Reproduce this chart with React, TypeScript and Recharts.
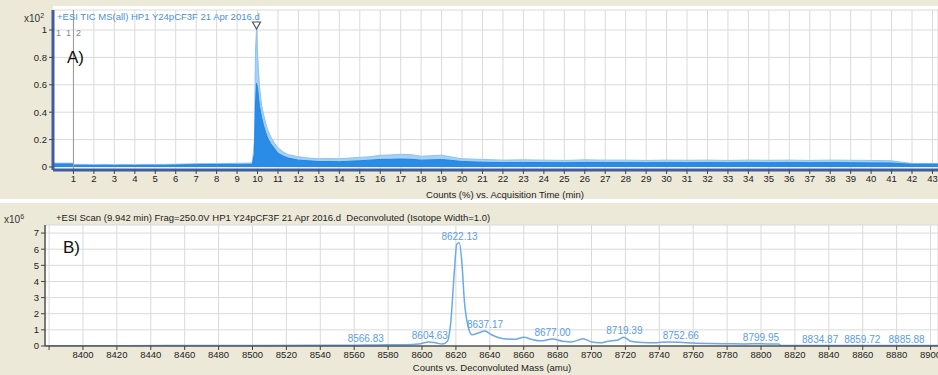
import React from "react"
import {
  ComposedChart,
  Area,
  Line,
  XAxis,
  YAxis,
  CartesianGrid,
  ReferenceLine,
  ReferenceDot,
} from "recharts"

// --- panel A: TIC chromatogram (x10^2 counts %) ---
const ticTime = [
  0, 0.5, 0.95, 1.05, 1.5, 2, 2.5, 3, 3.5, 4, 4.5, 5, 5.5, 6, 6.5, 7, 7.5, 8, 8.5, 9, 9.5, 9.75, 9.85, 9.9,
  9.95, 10.0, 10.05, 10.1, 10.2, 10.3, 10.4, 10.5, 10.65, 10.8, 11.0, 11.25, 11.5, 12, 12.5, 13, 13.5, 14,
  14.5, 15, 15.5, 16, 16.5, 17, 17.5, 18, 18.5, 19, 19.5, 20, 21, 22, 23, 24, 25, 26, 27, 28, 29, 30, 31,
  32, 33, 34, 35, 36, 37, 38, 39, 40, 41, 41.5, 42, 43.3,
]
const ticUpper = [
  0.028, 0.028, 0.028, 0.018, 0.018, 0.017, 0.018, 0.017, 0.018, 0.017, 0.018, 0.018, 0.019, 0.02, 0.022,
  0.024, 0.025, 0.026, 0.026, 0.027, 0.028, 0.03, 0.2, 0.85, 1.0, 0.83, 0.7, 0.58, 0.45, 0.38, 0.32, 0.27,
  0.22, 0.18, 0.14, 0.11, 0.09, 0.075, 0.065, 0.06, 0.062, 0.06, 0.065, 0.07, 0.075, 0.085, 0.088, 0.092,
  0.09, 0.078, 0.082, 0.086, 0.072, 0.06, 0.055, 0.05, 0.052, 0.05, 0.048, 0.052, 0.05, 0.05, 0.048, 0.05,
  0.049, 0.05, 0.048, 0.05, 0.049, 0.05, 0.048, 0.05, 0.049, 0.048, 0.045, 0.035, 0.026, 0.025,
]
const ticMain = [
  0.022, 0.022, 0.022, 0.012, 0.012, 0.011, 0.012, 0.011, 0.012, 0.011, 0.012, 0.012, 0.013, 0.014, 0.016,
  0.017, 0.018, 0.018, 0.019, 0.019, 0.02, 0.02, 0.1, 0.45, 0.61, 0.58, 0.5, 0.44, 0.36, 0.3, 0.25, 0.21,
  0.17, 0.14, 0.1, 0.08, 0.065, 0.05, 0.045, 0.04, 0.04, 0.038, 0.042, 0.045, 0.05, 0.055, 0.056, 0.058,
  0.056, 0.05, 0.052, 0.054, 0.048, 0.04, 0.035, 0.032, 0.033, 0.032, 0.031, 0.033, 0.032, 0.032, 0.031,
  0.032, 0.031, 0.032, 0.031, 0.032, 0.031, 0.032, 0.031, 0.032, 0.031, 0.03, 0.029, 0.024, 0.02, 0.02,
]
const minuteTicks = Array.from({ length: 43 }, (_, i) => i + 1)
const ticYTicks = [0, 0.2, 0.4, 0.6, 0.8, 1]

// --- panel B: deconvoluted spectrum (x10^6 counts) ---
const massAxis = [
  8377.6, 8400, 8450, 8500, 8540, 8560, 8567, 8580, 8590, 8598, 8604, 8608, 8612, 8615, 8617, 8619, 8620.5,
  8622, 8623.5, 8625, 8627, 8629.5, 8633, 8637, 8641, 8646, 8650, 8655, 8660, 8665, 8670, 8677, 8683, 8688,
  8695, 8700, 8705, 8710, 8715, 8719, 8723, 8730, 8738, 8745, 8752, 8760, 8770, 8780, 8790, 8800, 8808,
  8810.5, 8811.5, 8830, 8904.4,
]
const intensity = [
  0.02, 0.02, 0.025, 0.03, 0.04, 0.05, 0.06, 0.07, 0.08, 0.12, 0.25, 0.2, 0.12, 0.3, 1.5, 4.5, 6.3, 6.4,
  5.2, 2.8, 1.3, 0.7, 0.8, 0.93, 0.7, 0.5, 0.43, 0.42, 0.55, 0.4, 0.32, 0.43, 0.3, 0.25, 0.45, 0.25, 0.2,
  0.3, 0.35, 0.55, 0.3, 0.22, 0.2, 0.25, 0.24, 0.18, 0.15, 0.14, 0.13, 0.14, 0.12, 0.12, 0.03, 0.03, 0.03,
]
const peakMass = [8566.83, 8604.63, 8622.13, 8637.17, 8677.0, 8719.39, 8752.66, 8799.95, 8834.87, 8859.72, 8885.88]
const peakHeight = [0.06, 0.25, 6.4, 0.93, 0.43, 0.55, 0.24, 0.14, 0.03, 0.03, 0.03]
const massTicks = Array.from({ length: 27 }, (_, i) => 8380 + i * 20)
const specYTicks = [0, 1, 2, 3, 4, 5, 6, 7]

const ticData = ticTime.map((t, i) => ({ t, upper: ticUpper[i], main: ticMain[i] }))
const specData = massAxis.map((m, i) => ({ m, i: intensity[i] }))

const FONT = "'Liberation Sans', Arial, sans-serif"
const BEIGE = "#ece9d8"
const tickStyle = { fontSize: 9.5, fill: "#222", fontFamily: FONT }

const txt = (left: number, cy: number, size: number, color: string, extra: React.CSSProperties = {}) =>
  ({
    position: "absolute",
    left,
    top: cy - size / 2,
    fontSize: size,
    lineHeight: 1,
    color,
    fontFamily: FONT,
    whiteSpace: "nowrap",
    ...extra,
  }) as React.CSSProperties

const Triangle = (props: any) => {
  const { cx, cy } = props
  return (
    <path
      d={`M${cx - 4},${cy - 8} L${cx + 4},${cy - 8} L${cx},${cy - 1} Z`}
      fill="#fff"
      stroke="#555"
      strokeWidth={1.2}
    />
  )
}

export default function App() {
  return (
    <div style={{ position: "absolute", left: 0, top: 0, width: 938, height: 375, background: "#fff", overflow: "hidden" }}>
      {/* Panel A */}
      <div style={{ position: "absolute", left: 0, top: 0, width: 938, height: 199, background: BEIGE }}>
        <div style={{ position: "absolute", left: 53, top: 6, width: 885, height: 10, background: "#fff" }} />
        <ComposedChart width={938} height={199} data={ticData} margin={{ top: 10, right: 0, bottom: 0, left: 0 }}>
          <CartesianGrid stroke="#dadada" fill="#ffffff" />
          <XAxis
            dataKey="t"
            type="number"
            domain={[0, 43.27]}
            ticks={minuteTicks}
            interval={0}
            height={29}
            allowDataOverflow
            axisLine={{ stroke: "#3f5f9c", strokeWidth: 3 }}
            tickLine={{ stroke: "#444" }}
            tickSize={4}
            tickMargin={1}
            tick={tickStyle}
          />
          <YAxis
            type="number"
            domain={[-0.022, 1.146]}
            ticks={ticYTicks}
            interval={0}
            width={53}
            allowDataOverflow
            axisLine={{ stroke: "#3f5f9c", strokeWidth: 3 }}
            tickLine={{ stroke: "#444" }}
            tickSize={4}
            tickMargin={2}
            tick={tickStyle}
          />
          <ReferenceLine x={1} stroke="#9a9a9a" strokeWidth={1} />
          <Area
            dataKey="upper"
            type="linear"
            stroke="#8cc2f2"
            strokeWidth={1}
            fill="#a6d0f6"
            fillOpacity={1}
            isAnimationActive={false}
          />
          <Area
            dataKey="main"
            type="linear"
            stroke="#1f86e3"
            strokeWidth={1}
            fill="#2a8ce6"
            fillOpacity={1}
            isAnimationActive={false}
          />
          <ReferenceDot x={9.95} y={1} r={0} shape={Triangle} />
        </ComposedChart>
        <div style={txt(24, 17, 10, "#333")}>
          x10<sup style={{ fontSize: 7, verticalAlign: "4px" }}>2</sup>
        </div>
        <div style={txt(57, 17, 9.5, "#4a8fdc")}>+ESI TIC MS(all) HP1 Y24pCF3F 21 Apr 2016.d</div>
        <div style={txt(56, 33, 9, "#8a8a8a")}>1&nbsp;&nbsp;1</div>
        <div style={txt(76, 33, 9, "#8a8a8a")}>2</div>
        <div style={txt(67, 57, 17, "#111")}>A)</div>
        <div style={txt(505, 195, 9.5, "#222", { transform: "translateX(-50%)" })}>
          Counts (%) vs. Acquisition Time (min)
        </div>
      </div>

      {/* Panel B */}
      <div style={{ position: "absolute", left: 0, top: 203, width: 938, height: 172, background: BEIGE }}>
        <ComposedChart width={938} height={172} data={specData} margin={{ top: 22, right: 0, bottom: 0, left: 0 }}>
          <CartesianGrid stroke="#dadada" fill="#ffffff" />
          <XAxis
            dataKey="m"
            type="number"
            domain={[8377.6, 8904.4]}
            ticks={massTicks}
            interval={0}
            height={29}
            allowDataOverflow
            tickFormatter={(v: number) => (v === 8380 ? "" : String(v))}
            axisLine={{ stroke: "#555", strokeWidth: 1.5 }}
            tickLine={{ stroke: "#444" }}
            tickSize={4}
            tickMargin={1}
            tick={tickStyle}
          />
          <YAxis
            type="number"
            domain={[0, 7.5]}
            ticks={specYTicks}
            interval={0}
            width={45}
            allowDataOverflow
            axisLine={{ stroke: "#555", strokeWidth: 1.5 }}
            tickLine={{ stroke: "#444" }}
            tickSize={4}
            tickMargin={2}
            tick={tickStyle}
          />
          <Line
            dataKey="i"
            type="monotone"
            stroke="#6aa9ee"
            strokeWidth={1.5}
            dot={false}
            isAnimationActive={false}
          />
          {peakMass.map((m, k) => (
            <ReferenceDot
              key={m}
              x={m}
              y={peakHeight[k]}
              r={0}
              label={{
                value: m.toFixed(2),
                position: "top",
                offset: 3,
                fill: "#5b9de6",
                fontSize: 10,
                fontFamily: FONT,
              }}
            />
          ))}
        </ComposedChart>
        <div style={txt(4, 15, 10, "#333")}>
          x10<sup style={{ fontSize: 7, verticalAlign: "4px" }}>6</sup>
        </div>
        <div style={txt(56, 15, 9.5, "#222")}>
          +ESI Scan (9.942 min) Frag=250.0V HP1 Y24pCF3F 21 Apr 2016.d&nbsp;&nbsp;Deconvoluted (Isotope Width=1.0)
        </div>
        <div style={txt(63, 44, 17, "#111")}>B)</div>
        <div style={txt(492, 165, 9.5, "#222", { transform: "translateX(-50%)" })}>
          Counts vs. Deconvoluted Mass (amu)
        </div>
      </div>
    </div>
  )
}
